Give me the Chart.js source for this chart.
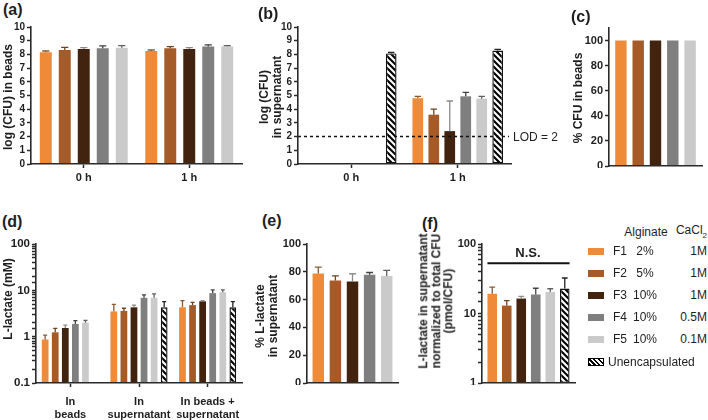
<!DOCTYPE html>
<html>
<head>
<meta charset="utf-8">
<script src="https://cdn.jsdelivr.net/npm/chart.js@4.4.1/dist/chart.umd.min.js"></script>
<style>
  body { margin: 0; width: 708px; height: 420px; background: #fff; position: relative; overflow: hidden;
         font-family: "Liberation Sans", Arial, sans-serif; color: #1e1e1e; }
  canvas, .t { position: absolute; }
  .t { white-space: nowrap; line-height: 1; }
  .panel { font-weight: bold; font-size: 16px; }
  .yt { font-weight: bold; font-size: 12px; line-height: 12.5px; text-align: center; }
  .lg { font-size: 12px; }
  sub { font-size: 8px; }
</style>
</head>
<body>
<script>
// formulations + legend table
const formulations = ["F1", "F2", "F3", "F4", "F5"];
const alginate = ["2%", "5%", "10%", "10%", "10%"];
const cacl2 = ["1M", "1M", "1M", "0.5M", "0.1M"];
const unencLabel = "Unencapsulated";
const barColors = ["#ee8a38", "#a55a28", "#41230f", "#7f7f7f", "#cacaca"];
const errColors = ["#8a5a30", "#6e4420", "#8c8c8c", "#404040", "#606060", "#222222"];

// (a) log (CFU) in beads, rows = time point, cols = F1..F5
const timeLabels = ["0 h", "1 h"];
const beadsCfu = [[8.16, 8.32, 8.40, 8.45, 8.49], [8.25, 8.45, 8.40, 8.57, 8.57]];
const beadsCfuSd = [[0.09, 0.2, 0.09, 0.17, 0.15], [0.07, 0.12, 0.09, 0.12, 0.07]];

// (b) log (CFU) in supernatant, cols = F1..F5, unencapsulated
const supCfu = [[null, null, null, null, null, 8.07], [4.8, 3.6, 2.4, 4.94, 4.77, 8.28]];
const supCfuSd = [[0, 0, 0, 0, 0, 0.07], [0.14, 0.4, 2.2, 0.29, 0.17, 0.08]];
const lod = 2;

// (c) % CFU in beads
const pctCfuBeads = [100, 100, 100, 100, 100];

// (d) L-lactate (mM), rows = group, cols = F1..F5, unencapsulated
const lactateGroups = [["In", "beads"], ["In", "supernatant"], ["In beads +", "supernatant"]];
const lactate = [[0.87, 1.24, 1.54, 1.88, 2.0, null], [3.5, 3.6, 4.3, 6.9, 6.9, 4.3], [4.3, 4.8, 5.8, 8.7, 9.1, 4.3]];
const lactateSd = [[0.21, 0.27, 0.24, 0.33, 0.25, 0], [1.5, 0.5, 0.5, 1.05, 1.5, 1.4], [1.7, 0.7, 0.2, 1.5, 1.1, 1.4]];

// (e) % L-lactate in supernatant
const pctLactateSup = [78.8, 73.8, 73.0, 77.9, 77.0];
const pctLactateSupSd = [4.6, 3.2, 5.6, 1.6, 4.0];

// (f) L-lactate normalized to CFU (pmol/CFU)
const normLactate = [19.2, 13.0, 16.4, 18.8, 20.4, 22.8];
const normLactateSd = [4.7, 2.3, 1.2, 4.3, 2.3, 9.6];
const nsLevel = 53;

const FONT = "'Liberation Sans', Arial, sans-serif";
const AX = "#2a2a2a";
const PT = 8, PR = 4;

const hatch = (() => {
  const c = document.createElement("canvas");
  c.width = c.height = 6;
  const g = c.getContext("2d");
  g.fillStyle = "#fff";
  g.fillRect(0, 0, 6, 6);
  g.strokeStyle = "#000";
  g.lineWidth = 2.1;
  g.beginPath();
  g.moveTo(-1, -1); g.lineTo(7, 7);
  g.moveTo(-1, 5); g.lineTo(1, 7);
  g.moveTo(5, -1); g.lineTo(7, 1);
  g.stroke();
  return g.createPattern(c, "repeat");
})();

const series = (i, values, sds) => ({
  label: i < 5 ? formulations[i] : unencLabel,
  data: values,
  errs: sds,
  errColor: errColors[i],
  backgroundColor: i < 5 ? barColors[i] : hatch,
  borderColor: "#111",
  borderWidth: i < 5 ? 0 : 1.4,
  borderSkipped: false,
});

const errorBars = {
  id: "errorBars",
  afterDatasetsDraw(chart) {
    const { ctx } = chart;
    const y = chart.scales.y;
    chart.data.datasets.forEach((ds, i) => {
      if (!ds.errs) return;
      chart.getDatasetMeta(i).data.forEach((bar, j) => {
        const v = ds.data[j], e = ds.errs[j];
        if (v == null || !e) return;
        const top = y.getPixelForValue(v + e);
        const w = bar.width * 0.3;
        ctx.save();
        ctx.strokeStyle = ds.errColor;
        ctx.lineWidth = 1.3;
        ctx.beginPath();
        ctx.moveTo(bar.x, bar.y);
        ctx.lineTo(bar.x, top);
        ctx.moveTo(bar.x - w, top);
        ctx.lineTo(bar.x + w, top);
        ctx.stroke();
        ctx.restore();
      });
    });
  },
};

const lodLine = {
  id: "lodLine",
  afterDatasetsDraw(chart) {
    const { ctx, chartArea: a } = chart;
    const yy = chart.scales.y.getPixelForValue(lod);
    ctx.save();
    ctx.setLineDash([3, 3]);
    ctx.lineWidth = 1.5;
    ctx.strokeStyle = "#111";
    ctx.beginPath();
    ctx.moveTo(a.left, yy);
    ctx.lineTo(a.right - 2, yy);
    ctx.stroke();
    ctx.restore();
  },
};

const nsBar = {
  id: "nsBar",
  afterDatasetsDraw(chart) {
    const { ctx } = chart;
    const first = chart.getDatasetMeta(0).data[0];
    const last = chart.getDatasetMeta(chart.data.datasets.length - 1).data[0];
    const yy = chart.scales.y.getPixelForValue(nsLevel);
    ctx.save();
    ctx.lineWidth = 2;
    ctx.strokeStyle = "#111";
    ctx.beginPath();
    ctx.moveTo(first.x - first.width / 2, yy);
    ctx.lineTo(last.x + last.width / 2, yy);
    ctx.stroke();
    ctx.restore();
  },
};

const yAxis = (o, size) => ({
  ...o,
  border: { color: AX, width: 1.6, z: 1 },
  grid: { drawOnChartArea: false, tickLength: 4, tickColor: AX, tickWidth: 1.5 },
  ticks: { color: "#1e1e1e", font: { family: FONT, weight: "bold", size }, padding: 2, autoSkip: false, ...(o.ticks || {}) },
});

const xAxis = (show, size, pad = 4) => ({
  border: { color: AX, width: 1.6, z: 1 },
  grid: { display: show, drawOnChartArea: false, offset: false, tickLength: 4, tickColor: AX, tickWidth: 1.5 },
  ticks: { display: show, color: "#1e1e1e", font: { family: FONT, weight: "bold", size, lineHeight: 1.15 }, padding: pad, maxRotation: 0, autoSkip: false },
});

const logLabel = (v) => (Number.isInteger(Math.log10(v)) ? String(v) : "");

const makeChart = (box, labels, datasets, x, y, plugins = []) => {
  const cv = document.createElement("canvas");
  cv.width = box.x1 - box.x0 + box.yw + PR;
  cv.height = box.y1 - box.y0 + PT + box.xh;
  cv.style.left = box.x0 - box.yw + "px";
  cv.style.top = box.y0 - PT + "px";
  document.body.appendChild(cv);
  return new Chart(cv, {
    type: "bar",
    data: { labels, datasets },
    options: {
      responsive: false,
      animation: false,
      events: [],
      layout: { padding: { top: PT, right: PR, left: 0, bottom: 0 } },
      plugins: { legend: { display: false }, tooltip: { enabled: false } },
      datasets: { bar: { categoryPercentage: box.cat, barPercentage: box.bar } },
      scales: {
        x: { ...x, afterFit: (s) => { s.height = box.xh; s.paddingLeft = 0; s.paddingRight = 0; } },
        y: { ...y, afterFit: (s) => { s.width = box.yw; s.paddingTop = 0; s.paddingBottom = 0; } },
      },
    },
    plugins: [errorBars, ...plugins],
  });
};

const byCol = (rows, i) => rows.map((r) => r[i]);

// (a)
makeChart(
  { x0: 31, y0: 27, x1: 242, y1: 164, yw: 26, xh: 24, cat: 0.9, bar: 0.63 },
  timeLabels,
  formulations.map((_, i) => series(i, byCol(beadsCfu, i), byCol(beadsCfuSd, i))),
  xAxis(true, 11),
  yAxis({ min: 0, max: 10, ticks: { stepSize: 1 } }, 10)
);

// (b)
makeChart(
  { x0: 298, y0: 27, x1: 511, y1: 164, yw: 26, xh: 24, cat: 0.9, bar: 0.67 },
  timeLabels,
  [0, 1, 2, 3, 4, 5].map((i) => series(i, byCol(supCfu, i), byCol(supCfuSd, i))),
  xAxis(true, 11),
  yAxis({ min: 0, max: 10, ticks: { stepSize: 1 } }, 10),
  [lodLine]
);

// (c)
makeChart(
  { x0: 609, y0: 28, x1: 702, y1: 166, yw: 30, xh: 2, cat: 0.93, bar: 0.66 },
  [""],
  formulations.map((_, i) => series(i, [pctCfuBeads[i]], null)),
  xAxis(false, 11),
  yAxis({ min: 0, max: 110, ticks: { stepSize: 20, includeBounds: false } }, 11)
);

// (d)
makeChart(
  { x0: 36, y0: 244, x1: 242, y1: 383, yw: 32, xh: 40, cat: 0.88, bar: 0.67 },
  lactateGroups,
  [0, 1, 2, 3, 4, 5].map((i) => series(i, byCol(lactate, i), byCol(lactateSd, i))),
  xAxis(true, 11, 9),
  yAxis({ type: "logarithmic", min: 0.1, max: 100, ticks: { callback: logLabel } }, 11.5)
);

// (e)
makeChart(
  { x0: 307, y0: 244, x1: 398, y1: 383, yw: 30, xh: 2, cat: 0.94, bar: 0.67 },
  [""],
  formulations.map((_, i) => series(i, [pctLactateSup[i]], [pctLactateSupSd[i]])),
  xAxis(false, 11),
  yAxis({ min: 0, max: 100, ticks: { stepSize: 20 } }, 11)
);

// (f)
makeChart(
  { x0: 482, y0: 244, x1: 575, y1: 383, yw: 30, xh: 2, cat: 0.936, bar: 0.66 },
  [""],
  [0, 1, 2, 3, 4, 5].map((i) => series(i, [normLactate[i]], [normLactateSd[i]])),
  xAxis(false, 11),
  yAxis({ type: "logarithmic", min: 1, max: 100, ticks: { callback: logLabel } }, 11),
  [nsBar]
);

// text
const txt = (html, x, y, cls, tf) => {
  const d = document.createElement("div");
  d.className = "t " + cls;
  d.innerHTML = html;
  d.style.left = x + "px";
  d.style.top = y + "px";
  d.style.transform = tf;
  document.body.appendChild(d);
  return d;
};
const leftMid = "translateY(-50%)";
const center = "translate(-50%,-50%)";
const vert = "translate(-50%,-50%) rotate(-90deg)";

[["(a)", 3, 10], ["(b)", 258, 14], ["(c)", 571, 17], ["(d)", 2, 222], ["(e)", 262, 221], ["(f)", 422, 224]]
  .forEach(([s, x, y]) => txt(s, x, y, "panel", leftMid));

txt("log (CFU) in beads", 8, 97, "yt", vert);
txt("log (CFU)<br>in supernatant", 270, 97, "yt", vert);
txt("% CFU in beads", 578, 98, "yt", vert);
txt("L-lactate (mM)", 8, 299, "yt", vert);
txt("% L-lactate<br>in supernatant", 266, 316, "yt", vert);
txt("L-lactate in supernatant<br>normalized to total CFU<br>(pmol/CFU)", 435.5, 301, "yt", vert);

txt("LOD = " + lod, 513, 137, "lg", leftMid);
txt("N.S.", 528, 253, "yt", center).style.fontSize = "13px";

// legend
txt("Alginate", 646, 232, "lg", center);
txt("CaCl<sub>2</sub>", 707, 232, "lg", "translate(-100%,-50%)");
formulations.forEach((f, i) => {
  const y = 251 + i * 22.1;
  const sw = txt("", 588, y - 3.5, "", "");
  sw.style.cssText += "width:16px;height:7px;background:" + barColors[i];
  txt(f, 613, y, "lg", leftMid);
  txt(alginate[i], 645, y, "lg", center);
  txt(cacl2[i], 707, y, "lg", "translate(-100%,-50%)");
});
const uy = 251 + 5 * 22.1;
const usw = txt("", 588, uy - 4, "", "");
usw.style.cssText += "width:14px;height:6px;border:1px solid #000;background:repeating-linear-gradient(45deg,#000 0 1.6px,#fff 1.6px 3.4px)";
txt(unencLabel, 608, uy, "lg", leftMid);
</script>
</body>
</html>
